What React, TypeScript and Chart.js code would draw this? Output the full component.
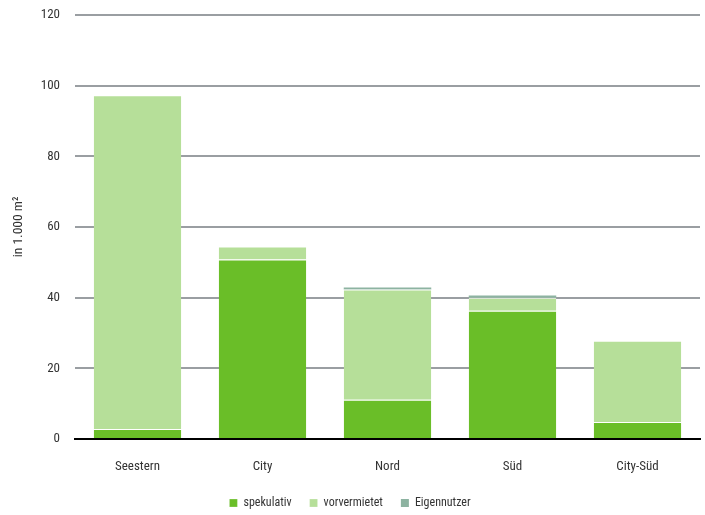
import React, { useEffect, useRef } from "react";
import { Chart, registerables } from "chart.js";

Chart.register(...registerables);

const categories = ["Seestern", "City", "Nord", "Süd", "City-Süd"];
const spekulativ = [2.8, 50.8, 11.1, 36.3, 4.8];
const vorvermietet = [94.5, 3.7, 31.2, 3.7, 23.0];
const eigennutzer = [0, 0, 0.6, 0.6, 0];
const yTicks = [0, 20, 40, 60, 80, 100, 120];

const FONT = "'Roboto Condensed', 'DejaVu Sans Condensed', sans-serif";

export default function App() {
  const ref = useRef<HTMLCanvasElement | null>(null);
  useEffect(() => {
    document.body.style.margin = "0";
    if (!ref.current) return;
    const chart = new Chart(ref.current, {
      type: "bar",
      data: {
        labels: categories,
        datasets: [
          {
            label: "spekulativ",
            data: spekulativ,
            backgroundColor: "#6abe28",
            borderColor: "#ffffff",
            borderWidth: { top: 1, left: 0, right: 0, bottom: 0 },
            borderSkipped: false,
          },
          {
            label: "vorvermietet",
            data: vorvermietet,
            backgroundColor: "#b6df99",
            borderColor: "#ffffff",
            borderWidth: { top: 1, left: 0, right: 0, bottom: 0 },
            borderSkipped: false,
          },
          {
            label: "Eigennutzer",
            data: eigennutzer,
            backgroundColor: "#8db3a1",
            borderWidth: 0,
          },
        ],
      },
      options: {
        animation: false,
        responsive: false,
        maintainAspectRatio: false,
        layout: { padding: { top: 15, right: 5, bottom: -4, left: 0 } },
        datasets: { bar: { categoryPercentage: 0.7, barPercentage: 1 } },
        plugins: {
          tooltip: { enabled: false },
          legend: {
            position: "bottom",
            labels: {
              boxWidth: 8,
              boxHeight: 8,
              color: "#333",
              font: { family: FONT, size: 12 },
              padding: 18,
            },
          },
        },
        scales: {
          x: {
            stacked: true,
            grid: { display: false, drawTicks: false },
            border: { display: true, color: "#000", width: 2 },
            ticks: { color: "#333", font: { family: FONT, size: 13 }, padding: 20 },
            afterFit: (s: any) => {
              s.height = 40;
            },
          },
          y: {
            stacked: true,
            min: 0,
            max: 120,
            afterBuildTicks: (s: any) => {
              s.ticks = yTicks.map((v) => ({ value: v }));
            },
            afterFit: (s: any) => {
              s.width = 75;
              s.paddingTop = 0;
              s.paddingBottom = 0;
            },
            grid: { color: "#9a9ea2", lineWidth: 2, drawTicks: false },
            border: { display: false },
            ticks: { color: "#333", font: { family: FONT, size: 13 }, padding: 15 },
            title: {
              display: true,
              text: "in 1.000 m²",
              color: "#333",
              font: { family: FONT, size: 13.5 },
              padding: { top: 11, bottom: 0 },
            },
          },
        },
      },
    });
    return () => chart.destroy();
  }, []);
  return (
    <div style={{ width: 705, height: 515 }}>
      <canvas ref={ref} width={705} height={515} style={{ display: "block" }} />
    </div>
  );
}
